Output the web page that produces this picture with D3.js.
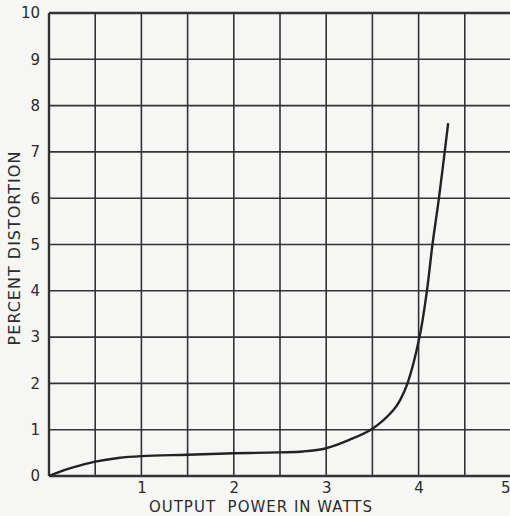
<!DOCTYPE html>
<html>
<head>
<meta charset="utf-8">
<script src="https://cdn.jsdelivr.net/npm/d3@7.9.0/dist/d3.min.js"></script>
<style>
  html, body { margin: 0; padding: 0; background: #f6f6f4; }
  svg { display: block; }
  text { font-family: "DejaVu Sans", sans-serif; fill: #2b2b2b; }
</style>
</head>
<body>
<div id="chart"></div>
<script>
const power = [0, 0.1, 0.25, 0.5, 0.75, 1, 1.5, 2, 2.5, 2.75, 3, 3.25, 3.5, 3.73, 3.8, 3.88, 4.01, 4.09, 4.15, 4.22, 4.32];
const distortion = [0, 0.08, 0.18, 0.31, 0.39, 0.43, 0.46, 0.49, 0.51, 0.53, 0.6, 0.78, 1.02, 1.43, 1.64, 2.0, 3.0, 4.0, 5.0, 6.0, 7.62];
const xTicks = [1, 2, 3, 4, 5];
const yTicks = [0, 1, 2, 3, 4, 5, 6, 7, 8, 9, 10];
const xGrid = d3.range(0, 5.01, 0.5);

const width = 510;
const height = 516;
const area = { left: 49, right: 511, top: 13, bottom: 476 };

const svg = d3.select('#chart')
  .append('svg')
  .attr('width', width)
  .attr('height', height);

const xScale = d3.scaleLinear().domain([0, 5]).range([area.left, area.right]);
const yScale = d3.scaleLinear().domain([0, 10]).range([area.bottom, area.top]);

// grid
const grid = svg.append('g').attr('stroke', '#333').attr('stroke-width', 1.6);
grid.selectAll('line.v')
  .data(xGrid)
  .join('line')
  .attr('class', 'v')
  .attr('x1', (d) => xScale(d)).attr('x2', (d) => xScale(d))
  .attr('y1', area.top).attr('y2', area.bottom)
  .attr('stroke-width', (d) => (d === 0 ? 2.4 : 1.6));

grid.selectAll('line.h')
  .data(yTicks)
  .join('line')
  .attr('class', 'h')
  .attr('y1', (d) => yScale(d)).attr('y2', (d) => yScale(d))
  .attr('x1', area.left).attr('x2', area.right)
  .attr('stroke-width', (d) => (d === 0 || d === 10 ? 2.6 : 1.6));

// y labels
const yAxis = d3.axisLeft(yScale).tickValues(yTicks).tickFormat(d3.format('d')).tickSize(0).tickPadding(9);
svg.append('g')
  .attr('transform', `translate(${area.left}, 0)`)
  .call(yAxis)
  .call((g) => g.select('.domain').remove())
  .selectAll('text')
  .attr('font-size', 15)
  .attr('font-family', '"DejaVu Sans", sans-serif')
  .attr('fill', '#2b2b2b');

// x labels
const xAxis = d3.axisBottom(xScale).tickValues(xTicks).tickFormat(d3.format('d')).tickSize(0).tickPadding(6);
svg.append('g')
  .attr('transform', `translate(0, ${area.bottom})`)
  .call(xAxis)
  .call((g) => g.select('.domain').remove())
  .selectAll('text')
  .attr('font-size', 15)
  .attr('font-family', '"DejaVu Sans", sans-serif')
  .attr('fill', '#2b2b2b')
  .attr('text-anchor', (d) => (d === 5 ? 'end' : 'middle'))
  .attr('x', (d) => (d === 5 ? -1 : 0));

// curve
const pts = power.map((p, i) => [p, distortion[i]]);
const line = d3.line()
  .x((d) => xScale(d[0]))
  .y((d) => yScale(d[1]))
  .curve(d3.curveCatmullRom.alpha(0.5));

svg.append('path')
  .datum(pts)
  .attr('d', line)
  .attr('fill', 'none')
  .attr('stroke', '#222')
  .attr('stroke-width', 2.4);

// titles
svg.append('text')
  .attr('x', 261)
  .attr('y', 512)
  .attr('text-anchor', 'middle')
  .attr('font-size', 15)
  .attr('letter-spacing', 1)
  .attr('xml:space', 'preserve')
  .style('white-space', 'pre')
  .text('OUTPUT  POWER IN WATTS');

svg.append('text')
  .attr('transform', 'translate(20, 248) rotate(-90)')
  .attr('text-anchor', 'middle')
  .attr('font-size', 16)
  .attr('letter-spacing', 1)
  .text('PERCENT DISTORTION');
</script>
</body>
</html>
